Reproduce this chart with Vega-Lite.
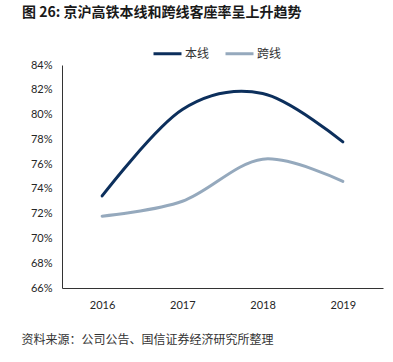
{
  "$schema": "https://vega.github.io/schema/vega-lite/v6.json",
  "width": 321,
  "height": 223,
  "autosize": {"type": "none"},
  "padding": {"left": 62, "top": 65, "right": 10, "bottom": 74},
  "title": {
    "text": "图 26:  京沪高铁本线和跨线客座率呈上升趋势",
    "anchor": "start",
    "frame": "group",
    "dx": -40,
    "offset": 18,
    "font": "Noto Sans CJK SC",
    "fontSize": 14,
    "fontWeight": "bold",
    "color": "#1a1a1a"
  },
  "config": {
    "view": {"stroke": null},
    "font": "Noto Sans CJK SC"
  },
  "data": {
    "values": [
      {"year": 2016, "series": "本线", "rate": 0.7343},
      {"year": 2017, "series": "本线", "rate": 0.804},
      {"year": 2018, "series": "本线", "rate": 0.817},
      {"year": 2019, "series": "本线", "rate": 0.778},
      {"year": 2016, "series": "跨线", "rate": 0.718},
      {"year": 2017, "series": "跨线", "rate": 0.730},
      {"year": 2018, "series": "跨线", "rate": 0.764},
      {"year": 2019, "series": "跨线", "rate": 0.746}
    ]
  },
  "mark": {"type": "line", "interpolate": "cardinal", "strokeWidth": 3, "strokeCap": "round"},
  "encoding": {
    "x": {
      "field": "year",
      "type": "quantitative",
      "scale": {"domain": [2015.5, 2019.5], "nice": false, "zero": false},
      "axis": {
        "values": [2016, 2017, 2018, 2019],
        "format": "d",
        "ticks": false,
        "grid": false,
        "labelOverlap": false,
        "domainColor": "#333333",
        "labelFont": "Lato",
        "labelFontSize": 11,
        "labelColor": "#262626",
        "labelPadding": 11,
        "title": "资料来源：公司公告、国信证券经济研究所整理",
        "titleFont": "Noto Sans CJK SC",
        "titleFontSize": 12,
        "titleFontWeight": "normal",
        "titleColor": "#333333",
        "titleAnchor": "start",
        "titleAlign": "left",
        "titleBaseline": "middle",
        "titleX": -41,
        "titleY": 51
      }
    },
    "y": {
      "field": "rate",
      "type": "quantitative",
      "scale": {"domain": [0.66, 0.84], "nice": false, "zero": false},
      "axis": {
        "values": [0.66, 0.68, 0.70, 0.72, 0.74, 0.76, 0.78, 0.80, 0.82, 0.84],
        "format": ".0%",
        "ticks": false,
        "grid": false,
        "labelOverlap": false,
        "labelBound": false,
        "domainColor": "#333333",
        "labelFont": "Lato",
        "labelFontSize": 11,
        "labelColor": "#262626",
        "labelPadding": 10,
        "title": null
      }
    },
    "color": {
      "field": "series",
      "type": "nominal",
      "scale": {"domain": ["本线", "跨线"], "range": ["#0c2f5c", "#95a9bd"]},
      "legend": {
        "title": null,
        "orient": "none",
        "direction": "horizontal",
        "legendX": 90,
        "legendY": -27,
        "symbolType": "stroke",
        "symbolSize": 784,
        "symbolStrokeWidth": 3,
        "labelFont": "Noto Sans CJK SC",
        "labelFontSize": 12,
        "labelColor": "#333333",
        "labelOffset": 2,
        "columnPadding": 9
      }
    }
  }
}
